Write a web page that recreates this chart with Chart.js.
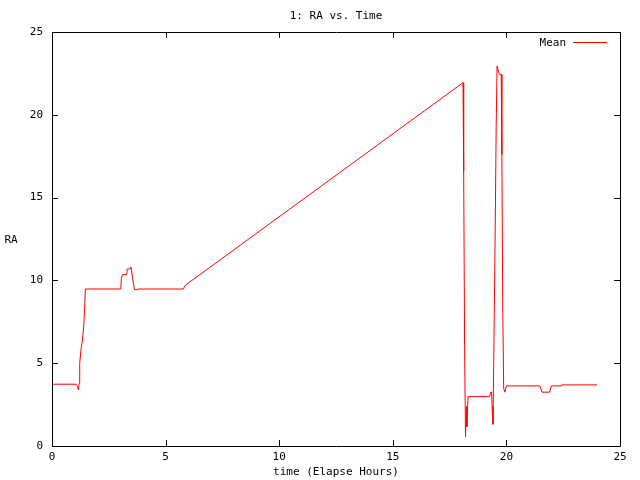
<!DOCTYPE html>
<html>
<head>
<meta charset="utf-8">
<title>1: RA vs. Time</title>
<script src="https://cdn.jsdelivr.net/npm/chart.js@4.4.1/dist/chart.umd.min.js"></script>
<style>
  html, body { margin: 0; padding: 0; background: #fff; }
  canvas { display: block; }
</style>
</head>
<body>
<canvas id="ra-chart" width="640" height="480"></canvas>
<script>
// values: elapsed hours vs. mean RA
const timeHours = [
  0, 1.06, 1.12, 1.16, 1.2, 1.22, 1.28, 1.34, 1.4, 1.45, 1.47,
  3.03, 3.05, 3.1, 3.29, 3.31, 3.44, 3.48, 3.55, 3.63, 3.77, 3.79,
  5.78, 5.86, 18.09, 18.12, 18.16, 18.2, 18.24, 18.26, 18.31,
  19.26, 19.31, 19.35, 19.37, 19.41, 19.44, 19.5, 19.55, 19.59,
  19.63, 19.69, 19.77, 19.8, 19.84, 19.88, 19.93, 20.0,
  21.47, 21.57, 21.9, 21.98, 22.42, 22.44, 23.99
];
const raMean = [
  3.73, 3.73, 3.6, 3.39, 3.8, 5.0, 5.87, 6.4, 7.3, 8.8, 9.48,
  9.48, 10.08, 10.35, 10.35, 10.69, 10.69, 10.8, 10.1, 9.44, 9.44, 9.48,
  9.48, 9.7, 21.94, 16.6, 6.0, 0.56, 2.38, 1.17, 2.98,
  2.98, 3.25, 3.25, 2.38, 1.31, 4.9, 12.06, 19.3, 22.95,
  22.95, 22.44, 22.44, 17.6, 8.33, 3.49, 3.25, 3.63,
  3.63, 3.25, 3.25, 3.63, 3.63, 3.69, 3.69
];
const xTicks = [0, 5, 10, 15, 20, 25];
const yTicks = [0, 5, 10, 15, 20, 25];

const chartTitle = "1: RA vs. Time";
const xTitle = "time (Elapse Hours)";
const yTitle = "RA";
const seriesName = "Mean";

const FONT = "11px 'DejaVu Sans Mono', 'Liberation Mono', monospace";

// gnuplot look: frame, inward ticks on all sides, titles and key
const gnuplotFrame = {
  id: "gnuplotFrame",
  afterDraw(chart) {
    const ctx = chart.ctx;
    const a = chart.chartArea;
    const xs = chart.scales.x;
    const ys = chart.scales.y;
    ctx.save();
    ctx.strokeStyle = "#000";
    ctx.lineWidth = 1;
    ctx.beginPath();
    ctx.rect(a.left + 0.5, a.top + 0.5, a.right - a.left, a.bottom - a.top);
    xTicks.forEach(function (v) {
      const px = Math.round(xs.getPixelForValue(v)) + 0.5;
      ctx.moveTo(px, a.bottom);
      ctx.lineTo(px, a.bottom - 6);
      ctx.moveTo(px, a.top);
      ctx.lineTo(px, a.top + 6);
    });
    yTicks.forEach(function (v) {
      const py = Math.round(ys.getPixelForValue(v)) + 0.5;
      ctx.moveTo(a.left, py);
      ctx.lineTo(a.left + 6, py);
      ctx.moveTo(a.right, py);
      ctx.lineTo(a.right - 6, py);
    });
    ctx.stroke();

    ctx.fillStyle = "#000";
    ctx.font = FONT;
    ctx.textBaseline = "middle";
    ctx.textAlign = "center";
    ctx.fillText(chartTitle, (a.left + a.right) / 2, 16);
    ctx.fillText(xTitle, (a.left + a.right) / 2, 472);
    ctx.fillText(yTitle, 11, 240);

    // key
    const ds = chart.data.datasets[0];
    ctx.textAlign = "right";
    ctx.fillText(ds.label, 566, 43);
    ctx.strokeStyle = ds.borderColor;
    ctx.beginPath();
    ctx.moveTo(573, 42.5);
    ctx.lineTo(607, 42.5);
    ctx.stroke();
    ctx.restore();
  }
};

const points = timeHours.map(function (t, i) {
  return { x: t, y: raMean[i] };
});

new Chart(document.getElementById("ra-chart"), {
  type: "line",
  data: {
    datasets: [
      {
        label: seriesName,
        data: points,
        borderColor: "#ff0000",
        borderWidth: 1,
        pointRadius: 0,
        tension: 0,
        fill: false
      }
    ]
  },
  options: {
    responsive: false,
    animation: false,
    layout: { padding: { left: 0, top: 32, right: 20, bottom: 0 } },
    plugins: {
      legend: { display: false },
      title: { display: false },
      tooltip: { enabled: false }
    },
    scales: {
      x: {
        type: "linear",
        min: 0,
        max: 25,
        afterFit: function (scale) { scale.height = 34; },
        afterBuildTicks: function (scale) {
          scale.ticks = xTicks.map(function (v) { return { value: v }; });
        },
        grid: { display: false, drawTicks: false },
        border: { display: false },
        ticks: {
          color: "#000",
          font: { family: "'DejaVu Sans Mono', monospace", size: 11 },
          padding: 5,
          maxRotation: 0,
          autoSkip: false
        }
      },
      y: {
        type: "linear",
        min: 0,
        max: 25,
        afterFit: function (scale) { scale.width = 52; },
        afterBuildTicks: function (scale) {
          scale.ticks = yTicks.map(function (v) { return { value: v }; });
        },
        grid: { display: false, drawTicks: false },
        border: { display: false },
        ticks: {
          color: "#000",
          font: { family: "'DejaVu Sans Mono', monospace", size: 11 },
          padding: 9,
          autoSkip: false
        }
      }
    }
  },
  plugins: [gnuplotFrame]
});
</script>
</body>
</html>
